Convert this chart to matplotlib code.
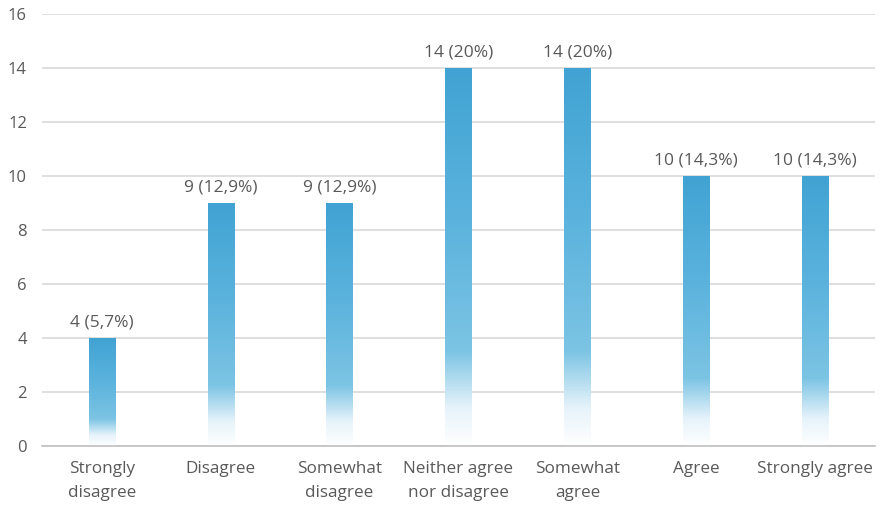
import numpy as np
import matplotlib
matplotlib.use("Agg")
import matplotlib.pyplot as plt
from matplotlib.colors import LinearSegmentedColormap

categories = ["Strongly\ndisagree", "Disagree", "Somewhat\ndisagree",
              "Neither agree\nnor disagree", "Somewhat\nagree", "Agree",
              "Strongly agree"]
counts = [4, 9, 9, 14, 14, 10, 10]
labels = ["4 (5,7%)", "9 (12,9%)", "9 (12,9%)", "14 (20%)", "14 (20%)",
          "10 (14,3%)", "10 (14,3%)"]

plt.rcParams['font.family'] = ['Open Sans', 'DejaVu Sans']
text_color = "#595959"

fig = plt.figure(figsize=(8.8, 5.05), dpi=100)
ax = fig.add_axes([0.048, 0.117, 0.946, 0.855])

# blue fading to white at the base of each bar
fade = LinearSegmentedColormap.from_list(
    "fade", [(0.0, "#ffffff"), (0.10, "#e6f3fa"), (0.25, "#7cc4e4"),
             (0.6, "#5bb3dd"), (1.0, "#41a3d3")])
grad = np.linspace(0, 1, 256).reshape(-1, 1)

x = np.arange(len(categories))
bars = ax.bar(x, counts, width=0.22, color="none", zorder=2)
for bar, lab in zip(bars, labels):
    x0, w, h = bar.get_x(), bar.get_width(), bar.get_height()
    ax.imshow(grad, cmap=fade, origin="lower", aspect="auto",
              extent=[x0, x0 + w, 0, h], zorder=2, interpolation="bicubic")
    ax.annotate(lab, (x0 + w / 2, h), xytext=(0, 5.5), textcoords="offset points",
                ha="center", va="bottom", fontsize=12.5, color=text_color)

ax.set_xlim(-0.5, len(categories) - 0.5)
ax.set_ylim(0, 16)
ax.set_yticks(range(0, 17, 2))
ax.set_xticks(x)
ax.set_xticklabels(categories, fontsize=12.3, color=text_color, linespacing=1.65)
ax.tick_params(axis="y", labelsize=12, labelcolor=text_color, length=0, pad=11)
ax.tick_params(axis="x", length=0, pad=11)
ax.grid(axis="y", color="#d9d9d9", linewidth=1.2, zorder=0)
ax.set_axisbelow(True)
for side in ["top", "right", "left"]:
    ax.spines[side].set_visible(False)
ax.spines["bottom"].set_color("#bfbfbf")
ax.spines["bottom"].set_linewidth(1.2)

fig.savefig("out.png", dpi=100)
